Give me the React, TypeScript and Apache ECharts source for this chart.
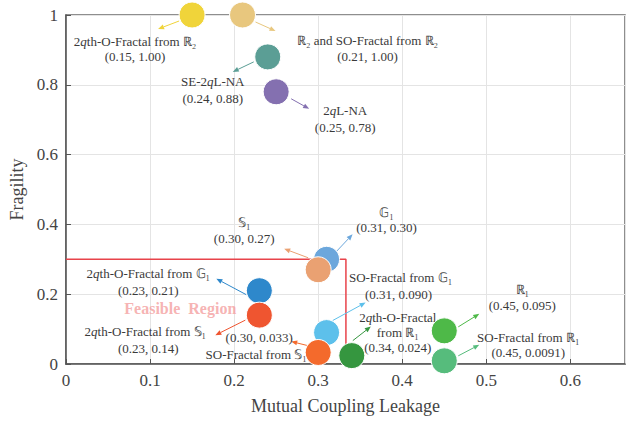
import React, { useEffect, useRef } from "react";
import * as echarts from "echarts";

const names = [
  "2{i|q}th-O-Fractal from ℝ₂",
  "ℝ₂ and SO-Fractal from ℝ₂",
  "SE-2{i|q}L-NA",
  "2{i|q}L-NA",
  "𝔾₁",
  "𝕊₁",
  "2{i|q}th-O-Fractal from 𝔾₁",
  "2{i|q}th-O-Fractal from 𝕊₁",
  "SO-Fractal from 𝔾₁",
  "SO-Fractal from 𝕊₁",
  "2{i|q}th-O-Fractal\nfrom ℝ₁",
  "ℝ₁",
  "SO-Fractal from ℝ₁",
];
const leakage = [0.15, 0.21, 0.24, 0.25, 0.31, 0.3, 0.23, 0.23, 0.31, 0.3, 0.34, 0.45, 0.45];
const fragility = [1.0, 1.0, 0.88, 0.78, 0.3, 0.27, 0.21, 0.14, 0.09, 0.033, 0.024, 0.095, 0.0091];
const valueLabels = [
  "(0.15, 1.00)",
  "(0.21, 1.00)",
  "(0.24, 0.88)",
  "(0.25, 0.78)",
  "(0.31, 0.30)",
  "(0.30, 0.27)",
  "(0.23, 0.21)",
  "(0.23, 0.14)",
  "(0.31, 0.090)",
  "(0.30, 0.033)",
  "(0.34, 0.024)",
  "(0.45, 0.095)",
  "(0.45, 0.0091)",
];
const colors = [
  "#F0D43A",
  "#E8C77E",
  "#5B9E95",
  "#8470B0",
  "#6CA7DC",
  "#EAA172",
  "#2E88CB",
  "#EF5530",
  "#5DC0EB",
  "#F46A2C",
  "#35963F",
  "#4EB948",
  "#56BC7C",
];
const feasibleX = [0, 0.333, 0.333];
const feasibleY = [0.3, 0.3, 0];
const feasibleLabelAt = [0.136, 0.158];
const xTicks = [0, 0.1, 0.2, 0.3, 0.4, 0.5, 0.6];

// pixel offsets of arrows (start x,y, end x,y) and label lines relative to each point
const layout = [
  { a: [-13, 6, -34, 14], t: [[-57, 26], [-57, 41]] },
  { a: [13, 7, 33, 16], t: [[125, 25], [125, 41]] },
  { a: [-14, 5, -35, 15], t: [[-55, 25], [-55, 42]] },
  { a: [15, 7, 33, 17], t: [[69, 19], [69, 36]] },
  { a: [10, -8, 26, -25], t: [[60, -47], [60, -32]] },
  { a: [-10, -12, -34, -21], t: [[-74, -47], [-74, -31]] },
  { a: [-13, 4, -43, -12], t: [[-111, -17], [-111, 0]] },
  { a: [-14, 5, -44, 20], t: [[-114, 16], [-111, 33]] },
  { a: [6, -12, 39, -30], t: [[74, -55], [72, -38]] },
  { a: [-11, -7, -27, -11], t: [[-62, 2], [-59, -15]] },
  { a: [1, -15, 19, -29], t: [[46, -38], [46, -23], [46, -8]] },
  { a: [14, -4, 35, -17], t: [[78, -41], [78, -25]] },
  { a: [14, -5, 35, -16], t: [[84, -23], [84, -8]] },
];

const FONT = "'Liberation Serif', 'Times New Roman', serif";
const TEXT = "#3a3a3a";

export default function App() {
  const ref = useRef<HTMLDivElement>(null);
  useEffect(() => {
    const chart = echarts.init(ref.current!, null, { renderer: "svg" });
    const pts = leakage.map((x, i) => [x, fragility[i]]);
    const option: any = {
      animation: false,
      grid: {
        left: 66,
        right: 11,
        top: 15,
        bottom: 58,
        outerBoundsMode: "none",
        containLabel: false,
        show: true,
        borderColor: "#6a6a6a",
        borderWidth: 1.5,
      },
      xAxis: {
        type: "value",
        min: 0,
        max: 0.665,
        interval: 0.1,
        name: "Mutual Coupling Leakage",
        nameLocation: "middle",
        nameGap: 33,
        nameTextStyle: { fontFamily: FONT, fontSize: 18, color: "#444" },
        axisLine: { show: true, lineStyle: { color: "#555", width: 1.5 } },
        axisTick: { show: true, inside: true, length: 5, lineStyle: { color: "#555" } },
        axisLabel: {
          fontFamily: FONT,
          fontSize: 17,
          color: "#444",
          margin: 8,
          showMaxLabel: false,
          formatter: (v: number) => {
            const t = xTicks.find((k) => Math.abs(k - v) < 1e-6);
            return t === undefined ? "" : String(t);
          },
        },
        splitLine: { show: true, lineStyle: { color: "#e4e4e4", width: 1 } },
      },
      yAxis: {
        type: "value",
        min: 0,
        max: 1,
        interval: 0.2,
        name: "Fragility",
        nameLocation: "middle",
        nameGap: 27,
        nameTextStyle: { fontFamily: FONT, fontSize: 18, color: "#444" },
        axisLine: { show: true, lineStyle: { color: "#555", width: 1.5 } },
        axisTick: { show: true, inside: true, length: 5, lineStyle: { color: "#555" } },
        axisLabel: { fontFamily: FONT, fontSize: 17, color: "#444", margin: 8 },
        splitLine: { show: true, lineStyle: { color: "#e4e4e4", width: 1 } },
      },
      series: [
        {
          type: "line",
          data: feasibleX.map((x, i) => [x, feasibleY[i]]),
          symbol: "none",
          lineStyle: { color: "#E8434A", width: 1.5 },
          z: 1,
        },
        {
          type: "scatter",
          data: [feasibleLabelAt],
          symbolSize: 0,
          label: {
            show: true,
            position: "inside",
            formatter: "Feasible  Region",
            fontFamily: FONT,
            fontSize: 16,
            fontWeight: "bold",
            color: "#F4A0A0",
          },
          z: 2,
        },
        {
          type: "custom",
          coordinateSystem: "cartesian2d",
          data: pts,
          encode: { x: 0, y: 1 },
          z: 3,
          renderItem: (params: any, api: any) => {
            const i = params.dataIndex;
            const [cx, cy] = api.coord([api.value(0), api.value(1)]);
            const L = layout[i];
            const col = colors[i];
            const x1 = cx + L.a[0], y1 = cy + L.a[1], x2 = cx + L.a[2], y2 = cy + L.a[3];
            const dx = x2 - x1, dy = y2 - y1;
            const len = Math.sqrt(dx * dx + dy * dy) || 1;
            const ux = dx / len, uy = dy / len;
            const hl = 6, hw = 2.5;
            const bx = x2 - ux * hl, by = y2 - uy * hl;
            const children: any[] = [
              {
                type: "line",
                shape: { x1, y1, x2: bx, y2: by },
                style: { stroke: col, lineWidth: 1 },
              },
              {
                type: "polygon",
                shape: {
                  points: [
                    [x2, y2],
                    [bx - uy * hw, by + ux * hw],
                    [bx + uy * hw, by - ux * hw],
                  ],
                },
                style: { fill: col },
              },
            ];
            const lines = names[i].split("\n").concat([valueLabels[i]]);
            lines.forEach((txt, k) => {
              const p = L.t[k];
              children.push({
                type: "text",
                x: cx + p[0],
                y: cy + p[1],
                style: {
                  text: txt,
                  fill: TEXT,
                  fontFamily: FONT,
                  fontSize: 13,
                  align: "center",
                  verticalAlign: "middle",
                  rich: {
                    i: { font: "italic 13px " + FONT, fill: TEXT },
                  },
                },
              });
            });
            return { type: "group", children };
          },
        },
        {
          type: "scatter",
          data: pts.map((p, i) => ({ value: p, itemStyle: { color: colors[i] } })),
          symbolSize: 26,
          itemStyle: { borderColor: "#ffffff", borderWidth: 1, opacity: 1 },
          z: 4,
        },
      ],
    };
    chart.setOption(option);
    return () => chart.dispose();
  }, []);
  return (
    <div
      ref={ref}
      style={{ position: "absolute", left: 0, top: 0, width: 636, height: 422 }}
    />
  );
}
